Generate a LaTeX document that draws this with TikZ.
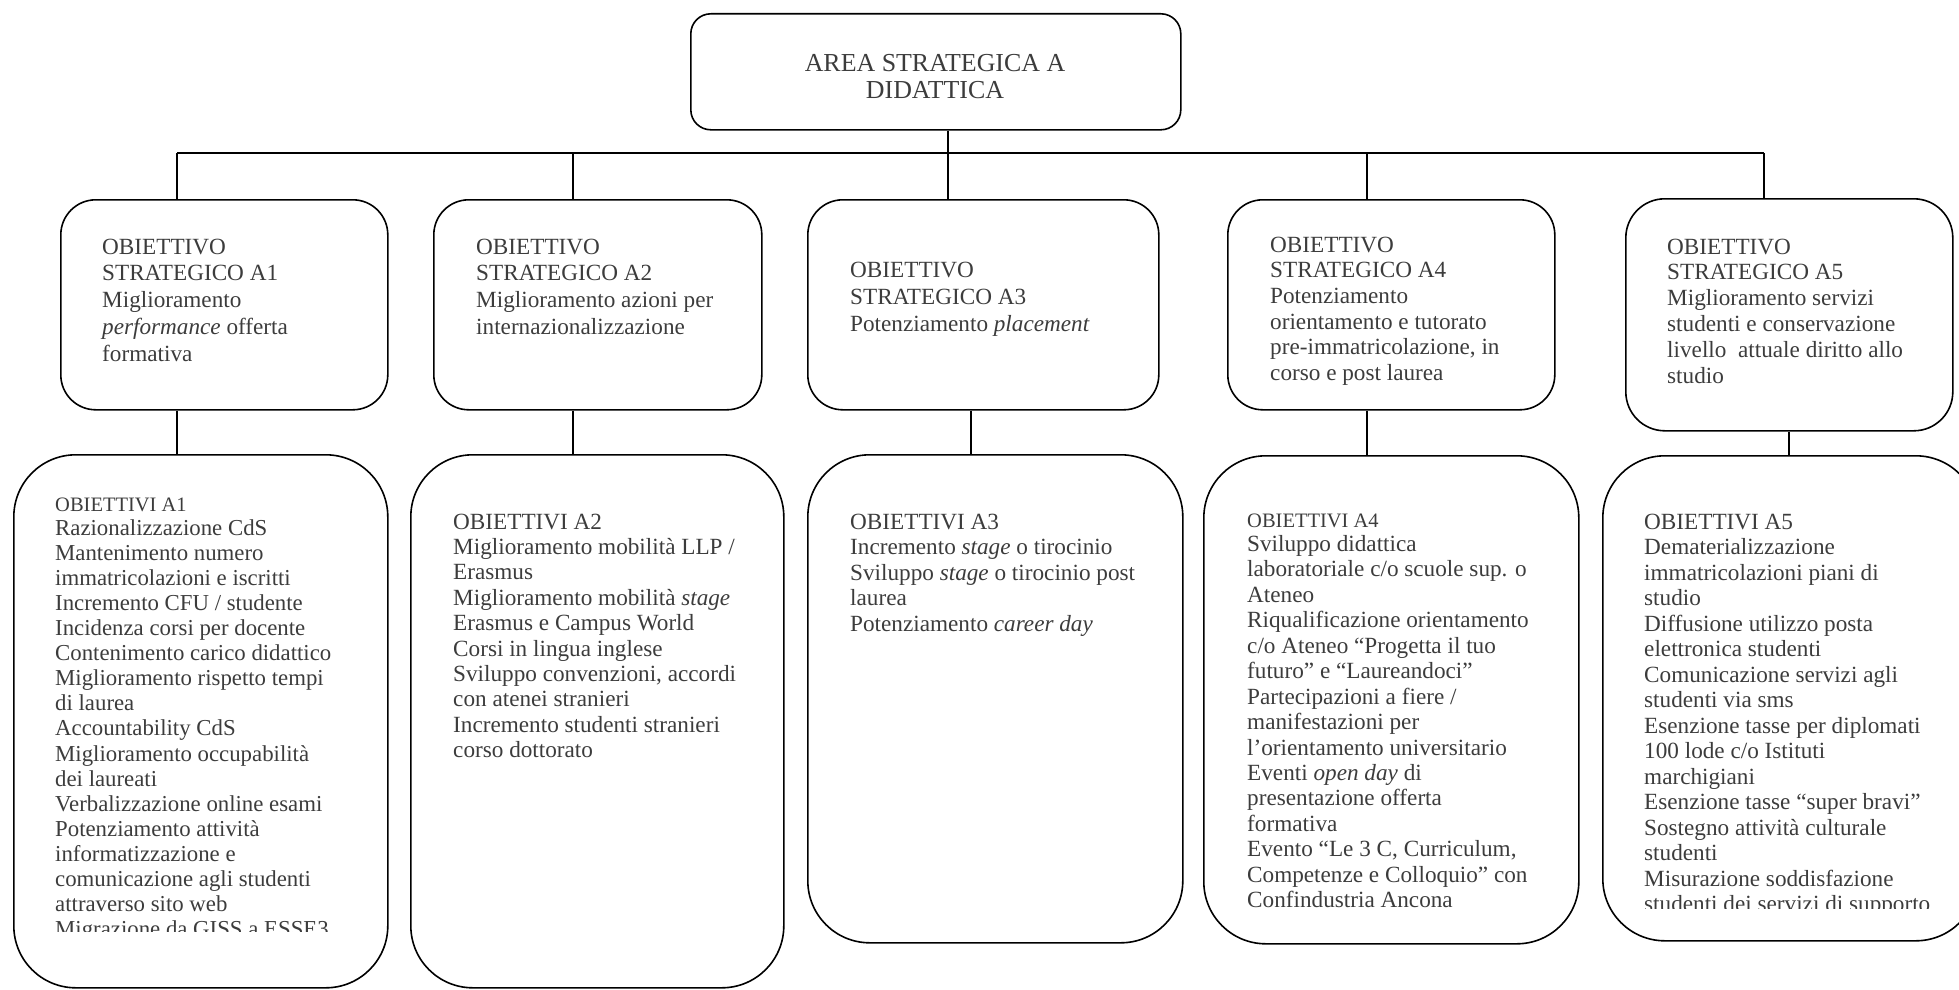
\documentclass[tikz,border=0pt]{standalone}
\usepackage{fontspec}
\setmainfont{Liberation Serif}
\definecolor{txtgray}{RGB}{60,60,60}
\newcommand{\boxlines}[3]{{\fontsize{#1}{#2}\selectfont\begin{tabular}[t]{@{}l@{}}#3\end{tabular}}}
\newcommand{\smallhead}[1]{{\fontsize{20.5}{20.5}\selectfont #1}}
\tikzset{
  obox/.style={draw=black, line width=1.6pt, rectangle, inner sep=0pt, anchor=north west, fill=none},
  txt/.style={inner sep=0pt, anchor=base west, text=txtgray},
  conn/.style={draw=black, line width=1.5pt}
}
\begin{document}
\begin{tikzpicture}[x=1pt,y=-1pt]
\useasboundingbox (0,0) rectangle (1959,990);
\clip (0,0) rectangle (1959,990);
% boxes
\node[obox, rounded corners=20pt, minimum width=490pt, minimum height=116pt] (top) at (690,13) {};
\node[obox, rounded corners=35pt, minimum width=327pt, minimum height=210pt] (A1) at (60,199) {};
\node[obox, rounded corners=35pt, minimum width=328pt, minimum height=210pt] (A2) at (433,199) {};
\node[obox, rounded corners=35pt, minimum width=351pt, minimum height=210pt] (A3) at (807,199) {};
\node[obox, rounded corners=35pt, minimum width=327pt, minimum height=210pt] (A4) at (1227,199) {};
\node[obox, rounded corners=39pt, minimum width=327pt, minimum height=232pt] (A5) at (1625,198) {};
\node[obox, rounded corners=62pt, minimum width=374pt, minimum height=533pt] (B1) at (13,454) {};
\node[obox, rounded corners=62pt, minimum width=373pt, minimum height=533pt] (B2) at (410,454) {};
\node[obox, rounded corners=62pt, minimum width=375pt, minimum height=488pt] (B3) at (807,454) {};
\node[obox, rounded corners=62pt, minimum width=375pt, minimum height=488pt] (B4) at (1203,455) {};
\node[obox, rounded corners=62pt, minimum width=375pt, minimum height=485pt] (B5) at (1602,455) {};
% connector coordinates
\coordinate (bus) at (948,153);
\coordinate (c1) at (177,153);
\coordinate (c2) at (573,153);
\coordinate (c4) at (1367,153);
\coordinate (c5) at (1764,153);
\coordinate (k1) at (177,0);
\coordinate (k2) at (573,0);
\coordinate (k3) at (971,0);
\coordinate (k4) at (1367,0);
\coordinate (k5) at (1789,0);
\draw[conn] (top.south -| bus) -- (bus) -- (bus |- A3.north);
\draw[conn] (c1) -- (c5);
\draw[conn] (c1) -- (c1 |- A1.north);
\draw[conn] (c2) -- (c2 |- A2.north);
\draw[conn] (c4) -- (c4 |- A4.north);
\draw[conn] (c5) -- (c5 |- A5.north);
\draw[conn] (A1.south -| k1) -- (B1.north -| k1);
\draw[conn] (A2.south -| k2) -- (B2.north -| k2);
\draw[conn] (A3.south -| k3) -- (B3.north -| k3);
\draw[conn] (A4.south -| k4) -- (B4.north -| k4);
\draw[conn] (A5.south -| k5) -- (B5.north -| k5);
% texts
\node[inner sep=0pt, anchor=base, text=txtgray] (ttop) at (935,71)
  {{\fontsize{25.9}{28}\selectfont\begin{tabular}[t]{@{}c@{}}AREA STRATEGICA A\\ DIDATTICA\end{tabular}}};
\node[txt] (tA1) at (102,254) {\boxlines{23.2}{26.9}{OBIETTIVO\\ STRATEGICO A1\\ Miglioramento\\ \textit{performance} offerta\\ formativa}};
\node[txt] (tA2) at (476,254) {\boxlines{23.2}{26.7}{OBIETTIVO\\ STRATEGICO A2\\ Miglioramento azioni per\\ internazionalizzazione}};
\node[txt] (tA3) at (850,277) {\boxlines{23.2}{27}{OBIETTIVO\\ STRATEGICO A3\\ Potenziamento \textit{placement}}};
\node[txt] (tA4) at (1270,252) {\boxlines{23.2}{25.7}{OBIETTIVO\\ STRATEGICO A4\\ Potenziamento\\ orientamento e tutorato\\ pre-immatricolazione, in\\ corso e post laurea}};
\node[txt] (tA5) at (1667,254) {\boxlines{23.2}{25.9}{OBIETTIVO\\ STRATEGICO A5\\ Miglioramento servizi\\ studenti e conservazione\\ livello\ \ attuale diritto allo\\ studio}};
\begin{scope}
\clip (0,0) rectangle (1959,931);
\node[txt] (tB1) at (55,511) {\boxlines{22.8}{25.1}{\smallhead{OBIETTIVI A1}\\[-1pt] Razionalizzazione CdS\\ Mantenimento numero\\ immatricolazioni e iscritti\\ Incremento CFU / studente\\ Incidenza corsi per docente\\ Contenimento carico didattico\\ Miglioramento rispetto tempi\\ di laurea\\ Accountability CdS\\ Miglioramento occupabilità\\ dei laureati\\ Verbalizzazione online esami\\ Potenziamento attività\\ informatizzazione e\\ comunicazione agli studenti\\ attraverso sito web\\ Migrazione da GISS a ESSE3}};
\end{scope}
\node[txt] (tB2) at (453,529) {\boxlines{23.2}{25.4}{OBIETTIVI A2\\ Miglioramento mobilità LLP /\\ Erasmus\\ Miglioramento mobilità \textit{stage}\\ Erasmus e Campus World\\ Corsi in lingua inglese\\ Sviluppo convenzioni, accordi\\ con atenei stranieri\\ Incremento studenti stranieri\\ corso dottorato}};
\node[txt] (tB3) at (850,529) {\boxlines{23.2}{25.5}{OBIETTIVI A3\\ Incremento \textit{stage} o tirocinio\\ Sviluppo \textit{stage} o tirocinio post\\ laurea\\ Potenziamento \textit{career day}}};
\node[txt] (tB4) at (1247,527) {\boxlines{23.2}{25.45}{\smallhead{OBIETTIVI A4}\\[-1pt] Sviluppo didattica\\ laboratoriale c/o scuole sup. o\\ Ateneo\\ Riqualificazione orientamento\\ c/o Ateneo “Progetta il tuo\\ futuro” e “Laureandoci”\\ Partecipazioni a fiere /\\ manifestazioni per\\ l’orientamento universitario\\ Eventi \textit{open day} di\\ presentazione offerta\\ formativa\\ Evento “Le 3 C, Curriculum,\\ Competenze e Colloquio” con\\ Confindustria Ancona}};
\begin{scope}
\clip (0,0) rectangle (1959,908);
\node[txt] (tB5) at (1644,529) {\boxlines{23.2}{25.5}{OBIETTIVI A5\\ Dematerializzazione\\ immatricolazioni piani di\\ studio\\ Diffusione utilizzo posta\\ elettronica studenti\\ Comunicazione servizi agli\\ studenti via sms\\ Esenzione tasse per diplomati\\ 100 lode c/o Istituti\\ marchigiani\\ Esenzione tasse “super bravi”\\ Sostegno attività culturale\\ studenti\\ Misurazione soddisfazione\\ studenti dei servizi di supporto}};
\end{scope}
\end{tikzpicture}
\end{document}
